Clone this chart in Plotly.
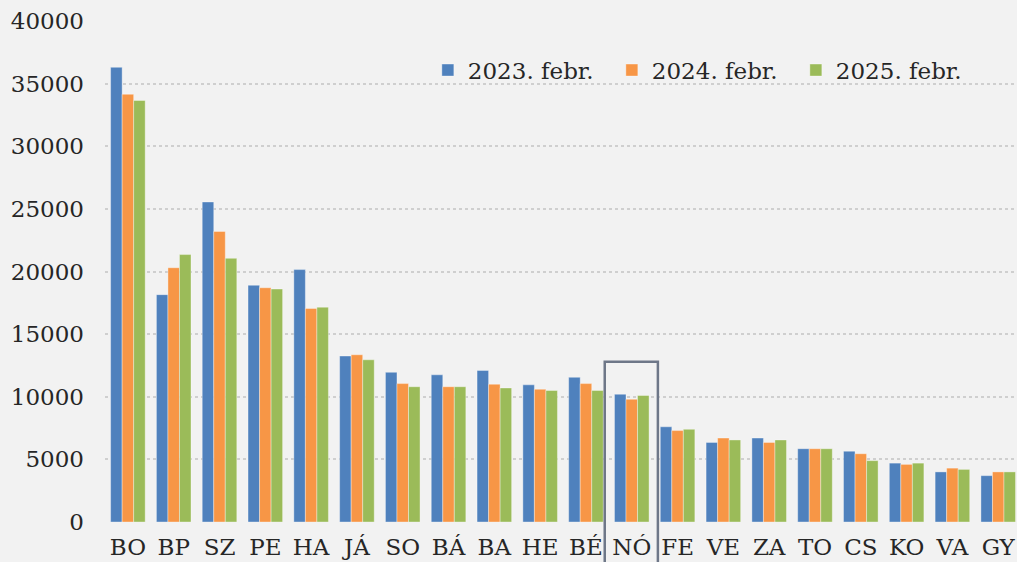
import plotly.graph_objects as go

categories = ["BO", "BP", "SZ", "PE", "HA", "JÁ", "SO", "BÁ", "BA", "HE",
              "BÉ", "NÓ", "FE", "VE", "ZA", "TO", "CS", "KO", "VA", "GY"]
series_names = ["2023. febr.", "2024. febr.", "2025. febr."]
v2023 = [36300, 18150, 25550, 18900, 20150, 13250, 11950, 11750, 12100, 10950,
         11550, 10200, 7600, 6350, 6700, 5850, 5650, 4700, 4000, 3700]
v2024 = [34150, 20300, 23200, 18700, 17050, 13350, 11050, 10800, 11000, 10600,
         11050, 9800, 7300, 6700, 6350, 5850, 5450, 4600, 4300, 4000]
v2025 = [33650, 21350, 21050, 18600, 17150, 12950, 10800, 10800, 10700, 10500,
         10500, 10100, 7400, 6550, 6550, 5850, 4900, 4700, 4200, 4000]
colors = ["#4F81BD", "#F79646", "#9BBB59"]
y_ticks = [0, 5000, 10000, 15000, 20000, 25000, 30000, 35000, 40000]
highlight = "NÓ"
highlight_top = 12800
y_max = 40000

FONT = "DejaVu Serif"
FS = 23

fig = go.Figure()
for name, vals, col in zip(series_names, [v2023, v2024, v2025], colors):
    fig.add_trace(go.Bar(
        x=categories, y=vals, name=name,
        marker=dict(color=col, line=dict(color="rgba(255,255,255,0.45)", width=0.8)),
    ))

idx = categories.index(highlight)
fig.add_shape(type="rect", xref="x", yref="paper",
              x0=idx - 0.59, x1=idx + 0.57,
              y0=-0.2, y1=highlight_top / y_max,
              line=dict(color="#6E7788", width=2.5), fillcolor="rgba(0,0,0,0)")

fig.update_layout(
    width=1017, height=562,
    margin=dict(l=105, r=0, t=21, b=40),
    paper_bgcolor="#F2F2F2", plot_bgcolor="#F2F2F2",
    barmode="group", bargap=0.245, bargroupgap=0,
    font=dict(family=FONT, size=FS, color="#262626"),
    showlegend=True,
    legend=dict(orientation="h", x=0.354, xanchor="left", y=0.902, yanchor="middle",
                bgcolor="rgba(0,0,0,0)", font=dict(family=FONT, size=FS, color="#262626"),
                entrywidth=139, entrywidthmode="pixels", traceorder="normal"),
)
fig.update_xaxes(range=[-0.5, 19.41], showgrid=False, showline=False, ticks="",
                 ticklabelstandoff=9,
                 tickfont=dict(family=FONT, size=FS, color="#262626"))
fig.update_yaxes(range=[0, y_max], tickvals=y_ticks, ticktext=[str(t) for t in y_ticks],
                 showgrid=True, gridcolor="#CFCFCF", griddash="dot", gridwidth=1.5,
                 zeroline=False, showline=False, ticks="", ticklabelstandoff=20,
                 tickfont=dict(family=FONT, size=FS, color="#262626"))

fig.write_html("out.html", config={"displayModeBar": False},
               post_script="document.body.style.margin='0';document.body.style.background='#F2F2F2';")
